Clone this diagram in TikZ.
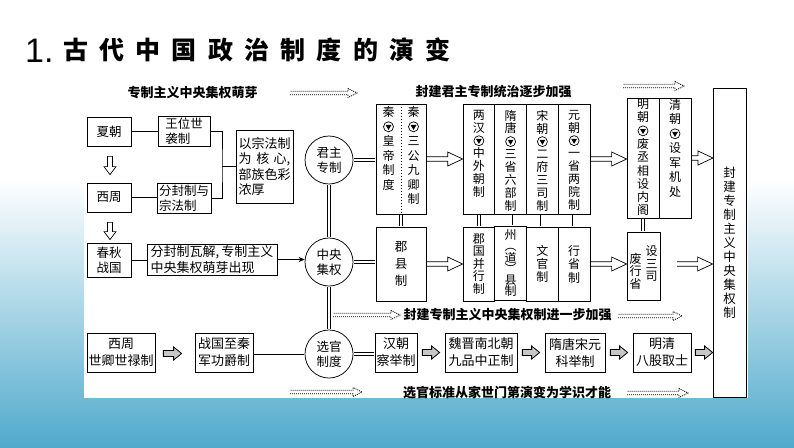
\documentclass[tikz,border=0pt]{standalone}
\usepackage{fontspec}
\setmainfont{Noto Sans CJK SC}
\newfontfamily\numfont{Liberation Sans}
\newfontfamily\titlefont[LetterSpace=45]{Noto Sans CJK SC}
\usetikzlibrary{calc, arrows.meta}

\definecolor{sea}{RGB}{80,170,204}

% circled down mark used inside the columns
\newcommand{\dn}{\tikz[baseline=-4.3pt]{\draw[line width=0.7pt] (0pt,0pt) circle (5pt);
  \fill (-2.9pt,1.8pt) -- (2.9pt,1.8pt) -- (0pt,-3.2pt) -- cycle;}}
% vertical text, top aligned: height, line pitch, top gap, text
\newcommand{\colstack}[4]{\parbox[c][#1][t]{14pt}{\centering\fontsize{12}{#2}\selectfont\vspace*{#3}#4}}
% open double-shaft arrow, left to right
\newcommand{\hollowarrow}[2]{\draw[hollow] ($(#1)+(0,2.3)$) -- ($(#1 -| #2)+(-15,2.3)$)
  -- ($(#1 -| #2)+(-15,7)$) -- (#1 -| #2) -- ($(#1 -| #2)+(-15,-7)$)
  -- ($(#1 -| #2)+(-15,-2.3)$) -- ($(#1)+(0,-2.3)$);}
% open arrow, downwards
\newcommand{\downarrowbox}[2]{\draw[hollow] ($(#1)+(-2.5,0)$) -- ($(#1 |- #2)+(-2.5,-8)$)
  -- ($(#1 |- #2)+(-6,-8)$) -- (#1 |- #2) -- ($(#1 |- #2)+(6,-8)$)
  -- ($(#1 |- #2)+(2.5,-8)$) -- ($(#1)+(2.5,0)$) -- cycle;}
% small filled arrow of the bottom row
\newcommand{\fatarrow}[2]{\draw[fat] ($(#1)+(0,3)$) -- ($(#1 -| #2)+(-8,3)$)
  -- ($(#1 -| #2)+(-8,6.5)$) -- (#1 -| #2) -- ($(#1 -| #2)+(-8,-6.5)$)
  -- ($(#1 -| #2)+(-8,-3)$) -- ($(#1)+(0,-3)$) -- cycle;}
% dotted arrow beside the stage titles
\newcommand{\dotarrow}[2]{\draw[dots] ($(#1)+(0,1.8)$) -- ($(#1 -| #2)+(-9,1.8)$)
  -- ($(#1 -| #2)+(-9,4.5)$) -- (#1 -| #2) -- ($(#1 -| #2)+(-9,-4.5)$)
  -- ($(#1 -| #2)+(-9,-1.8)$) -- ($(#1)+(0,-1.8)$);}

\tikzset{
  box/.style={draw, line width=0.75pt, inner sep=0pt, align=center, font=\fontsize{12.5}{15}\selectfont},
  lowbox/.style={box, minimum height=39, font=\fontsize{13}{17}\selectfont},
  col/.style={draw, line width=0.75pt, inner sep=0pt, align=center, minimum width=31.75, font=\fontsize{12}{13}\selectfont},
  hub/.style={draw, circle, line width=0.75pt, minimum size=48, inner sep=0pt, align=center, font=\fontsize{12.5}{15}\selectfont},
  stage/.style={inner sep=0pt, font=\bfseries\fontsize{13}{13}\selectfont},
  link/.style={line width=0.75pt},
  dbl/.style={double, double distance=2.8pt, line width=0.6pt, shorten >=0.35pt, shorten <=0.35pt},
  hollow/.style={line width=0.7pt},
  fat/.style={line width=0.8pt, fill=gray!45},
  dots/.style={line width=0.8pt, dash pattern=on 1pt off 1pt},
}

\begin{document}
\begin{tikzpicture}[x=1pt, y=-1pt]

    % 1. Page and panel
    \useasboundingbox (0,0) rectangle (794,447);
    \fill[white] (0,0) rectangle (794,447);
    \shade[top color=white, bottom color=sea] (0,180) rectangle (794,447);
    \fill[white] (84,70) rectangle (748,398);

    % 2. Title
    \node[anchor=base west, inner sep=0, font=\numfont\fontsize{34}{34}\selectfont] (num) at (25,62) {1.};
    \node[anchor=west, inner sep=0, font=\titlefont\bfseries\fontsize{25}{25}\selectfont] (title) at (63,50) {古代中国政治制度的演变};

    % 3. Stage titles and dotted arrows
    \node[stage] (s1) at (192.5,93) {专制主义中央集权萌芽};
    \node[stage] (s2) at (493.5,92) {封建君主专制统治逐步加强};
    \node[stage] (s3) at (507.5,315) {封建专制主义中央集权制进一步加强};
    \node[stage] (s4) at (507,393) {选官标准从家世门第演变为学识才能};
    \coordinate (d1) at (290,93);  \coordinate (d1e) at (357,93);
    \coordinate (d2) at (623,86);  \coordinate (d2e) at (684,86);
    \coordinate (d3) at (333,315); \coordinate (d3e) at (400,315);
    \coordinate (d4) at (618,316); \coordinate (d4e) at (682,316);
    \coordinate (d5) at (290,392); \coordinate (d5e) at (362,392);
    \coordinate (d6) at (627,393); \coordinate (d6e) at (688,393);
    \dotarrow{d1}{d1e} \dotarrow{d2}{d2e} \dotarrow{d3}{d3e}
    \dotarrow{d4}{d4e} \dotarrow{d5}{d5e} \dotarrow{d6}{d6e}

    % 4. Origins (left block)
    \node[box, minimum width=44, minimum height=29] (xia) at (109,131.5) {夏朝};
    \node[box, minimum width=44, minimum height=29] (zhou) at (109,197.5) {西周};
    \node[box, minimum width=44, minimum height=34] (chunqiu) at (109,260) {春秋\\战国};
    \node[box, align=left, minimum width=52, minimum height=30] (wangwei) at (184,131) {王位世\\袭制};
    \node[box, align=left, minimum width=54, minimum height=30] (fenfeng) at (184,198) {分封制与\\宗法制};
    \node[box, align=left, minimum width=57, minimum height=73, font=\fontsize{13}{15.5}\selectfont] (zongfa) at (264.5,166.5)
        {以宗法制\\为\hspace{5pt}核\hspace{4pt}心,\\部族色彩\\浓厚};
    \node[box, align=left, minimum width=130, minimum height=31, font=\fontsize{13}{16}\selectfont] (fenjie) at (212,259.5)
        {分封制瓦解,\,专制主义\\中央集权萌芽出现};

    \draw[link] (xia.east) -- (xia.east -| wangwei.west);
    \draw[link] (zhou.east) -- (zhou.east -| fenfeng.west);
    \coordinate (brk) at (222,166.5);
    \draw[link] (wangwei.east) -| (brk) |- (fenfeng.east);
    \draw[link] (brk) -- (zongfa.west);
    \draw[link] (chunqiu.east) -- (chunqiu.east -| fenjie.west);
    \coordinate (v1) at ($(xia.south)+(1,10)$);  \coordinate (v1e) at ($(zhou.north)+(1,-8)$);
    \coordinate (v2) at ($(zhou.south)+(1,10)$); \coordinate (v2e) at ($(chunqiu.north)+(1,-3)$);
    \downarrowbox{v1}{v1e}
    \downarrowbox{v2}{v2e}

    % 5. Hubs
    \node[hub] (junzhu) at (329,160) {君主\\专制};
    \node[hub] (zhongyang) at (329,262) {中央\\集权};
    \node[hub] (xuanguan) at (329,354) {选官\\制度};
    \draw[link, -{Stealth[length=6pt, width=5pt]}] (fenjie.east) -- (fenjie.east -| zhongyang.west);
    \draw[dbl] (junzhu.south) -- (zhongyang.north);
    \draw[dbl] (zhongyang.south) -- (xuanguan.north);

    % 6. Central government (upper row)
    \node[draw, line width=0.75pt, minimum width=50, minimum height=110] (qin) at (401,159) {};
    \node[inner sep=0] (qinhuang) at (388.5,159) {\colstack{110pt}{14.5pt}{2.5pt}{秦\\\dn\\皇\\帝\\制\\度}};
    \node[inner sep=0] (qingong) at (413.5,159) {\colstack{110pt}{14.5pt}{2.5pt}{秦\\\dn\\三\\公\\九\\卿\\制}};
    \draw[line width=0.5pt, dash pattern=on 1.5pt off 1.5pt] (qin.north) -- (qin.south);

    \node[col, minimum height=110] (lianghan) at (478.9,159) {\colstack{110pt}{12.9pt}{6pt}{两\\汉\\\dn\\中\\外\\朝\\制}};
    \node[col, minimum height=110] (suitang) at (510.6,159) {\colstack{110pt}{12.9pt}{6pt}{隋\\唐\\\dn\\三\\省\\六\\部\\制}};
    \node[col, minimum height=110] (songchao) at (542.4,159) {\colstack{110pt}{12.9pt}{6pt}{宋\\朝\\\dn\\二\\府\\三\\司\\制}};
    \node[col, minimum height=110] (yuanchao) at (574.1,159) {\colstack{110pt}{12.9pt}{6pt}{元\\朝\\\dn\\一\\省\\两\\院\\制}};

    \node[col, minimum width=32, minimum height=120] (mingchao) at (643,158) {\colstack{120pt}{13.3pt}{1pt}{明\\朝\\\dn\\废\\丞\\相\\设\\内\\阁}};
    \node[col, minimum width=32, minimum height=120] (qingchao) at (675,158) {\colstack{120pt}{14.5pt}{1pt}{清\\朝\\\dn\\设\\军\\机\\处}};

    \draw[dbl] (junzhu.east) -- (junzhu.east -| qin.west);
    \hollowarrow{qin.east}{lianghan.west}
    \hollowarrow{yuanchao.east}{mingchao.west}
    \hollowarrow{qingchao.east}{qingchao.east -| 713,0}

    % 7. Local government (lower row)
    \node[box, minimum width=50, minimum height=74, font=\fontsize{12.5}{17}\selectfont] (junxian) at (401,264) {郡\\县\\制};
    \node[col, minimum height=74, font=\fontsize{12}{12.5}\selectfont] (junguo) at (478.9,264) {郡\\国\\并\\行\\制};
    \node[col, minimum height=74, font=\fontsize{12}{11}\selectfont] (zhoudao) at (510.6,263) {州\\︵\\道\\︶\\县\\制};
    \node[col, minimum height=74, font=\fontsize{12}{13}\selectfont] (wenguan) at (542.4,264) {文\\官\\制};
    \node[col, minimum height=74, font=\fontsize{12}{13.5}\selectfont] (xingsheng) at (574.1,264) {行\\省\\制};
    \node[box, minimum width=33, minimum height=68] (sansi) at (643.5,266) {};
    \node[inner sep=0, align=center, font=\fontsize{12}{12.5}\selectfont] (sansiR) at (651.5,264) {设\\三\\司};
    \node[inner sep=0, align=center, font=\fontsize{12}{12.5}\selectfont] (sansiL) at (635.5,271) {废\\行\\省};

    \node[box, minimum width=33, minimum height=309, font=\fontsize{12.5}{14}\selectfont] (tall) at (729.5,242.5)
        {封\\建\\专\\制\\主\\义\\中\\央\\集\\权\\制};

    \draw[dbl] (zhongyang.east) -- (zhongyang.east -| junxian.west);
    \draw[dbl] (qin.south) -- (junxian.north);
    \draw[dbl] (lianghan.south) -- (junguo.north);
    \draw[dbl] (suitang.south) -- (suitang.south |- zhoudao.north);
    \draw[dbl] (songchao.south) -- (wenguan.north);
    \draw[dbl] (yuanchao.south) -- (xingsheng.north);
    \draw[dbl] (mingchao.south) -- (mingchao.south |- sansi.north);
    \hollowarrow{junxian.east}{junguo.west}
    \hollowarrow{xingsheng.east}{sansi.west}
    \coordinate (gap) at (677,264);
    \hollowarrow{gap}{tall.west}

    % 8. Selection of officials (bottom row)
    \node[lowbox, minimum width=68] (shiqing) at (121,352.5) {西周\\世卿世禄制};
    \node[lowbox, minimum width=58] (junggong) at (224,352.5) {战国至秦\\军功爵制};
    \node[lowbox, minimum width=42] (hanchao) at (396,352.5) {汉朝\\察举制};
    \node[lowbox, minimum width=72] (jiupin) at (481,352.5) {魏晋南北朝\\九品中正制};
    \node[lowbox, minimum width=60] (keju) at (575,352.5) {隋唐宋元\\科举制};
    \node[lowbox, minimum width=58] (bagu) at (662,352.5) {明清\\八股取士};

    \draw[dbl] (junggong.east) -- (junggong.east -| xuanguan.west);
    \draw[dbl] (xuanguan.east) -- (xuanguan.east -| hanchao.west);
    \coordinate (f1) at ($(shiqing.east)+(8,1)$);  \coordinate (f1e) at ($(junggong.west)+(-13,0)$);
    \coordinate (f2) at ($(hanchao.east)+(5,0)$);  \coordinate (f2e) at ($(jiupin.west)+(-5,0)$);
    \coordinate (f3) at ($(jiupin.east)+(5,0)$);   \coordinate (f3e) at ($(keju.west)+(-5,0)$);
    \coordinate (f4) at ($(keju.east)+(5,0)$);     \coordinate (f4e) at ($(bagu.west)+(-5,0)$);
    \coordinate (f5) at ($(bagu.east)+(4,0)$);
    \fatarrow{f1}{f1e} \fatarrow{f2}{f2e} \fatarrow{f3}{f3e}
    \fatarrow{f4}{f4e} \fatarrow{f5}{tall.west}

\end{tikzpicture}
\end{document}
